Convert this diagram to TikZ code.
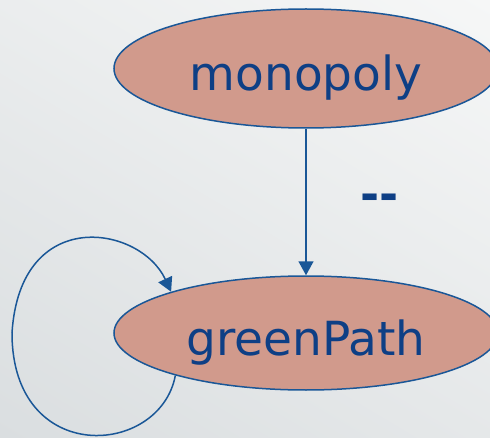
\documentclass[tikz,border=0pt]{standalone}
\usepackage{fontspec}
\setmainfont{DejaVu Sans}
\definecolor{EdgeBlue}{HTML}{1A5797}
\definecolor{LabelBlue}{HTML}{0E3F85}
\definecolor{StateRose}{HTML}{D19A8C}
\definecolor{BackLight}{HTML}{F6F7F7}
\definecolor{BackGray}{HTML}{DADEE0}
\usetikzlibrary{arrows.meta,shapes.geometric,shadings}

\begin{document}
\begin{tikzpicture}[x=1pt,y=1pt,>={Triangle[length=14pt,width=15pt]},
  state/.style={ellipse,draw=EdgeBlue,line width=1.5pt,fill=StateRose,inner sep=0pt,
    minimum width=384pt,text=LabelBlue,font=\fontsize{47}{47}\selectfont,
    text height=44pt,text depth=0pt},
  link/.style={->,EdgeBlue,line width=1.5pt}]
  \useasboundingbox (0,0) rectangle (490,437);
  \shade[upper left=BackLight!60!BackGray,upper right=BackLight,
         lower left=BackGray,lower right=BackLight!40!BackGray] (0,0) rectangle (490,437);
  \node[state,minimum height=119pt] (mono) at (306,368.5) {monopoly};
  \node[state,minimum height=114pt] (green) at (306,104) {greenPath};
  \draw[link] (mono) -- node[pos=0.5,right=50pt,text=LabelBlue,
    font=\fontsize{46}{46}\selectfont\bfseries] (sign) {-{}-} (green);
  % loop on greenPath, round the left side
  \draw[link] (green.198) .. controls (160,-20) and (12,-30) .. (12,104)
    .. controls (20,232) and (140,212) .. (green.163);
\end{tikzpicture}
\end{document}
